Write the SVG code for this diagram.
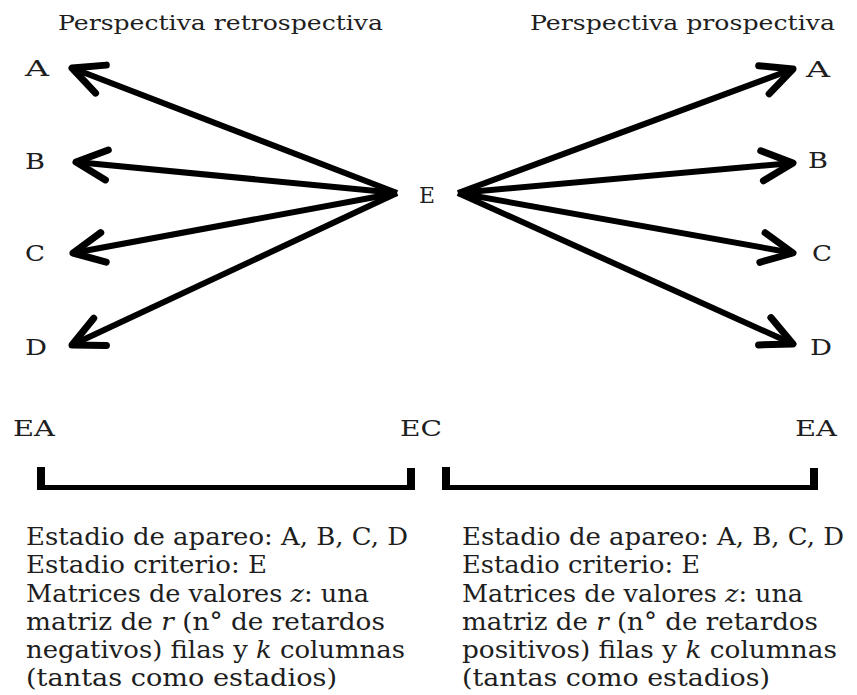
<svg xmlns="http://www.w3.org/2000/svg" width="857" height="695" viewBox="0 0 857 695">
<defs>
<style>
text{font-family:"DejaVu Serif","Liberation Serif",serif;fill:#1e1e1e}
.t{font-size:21px}
.l{font-size:22px}
.b{font-size:23.5px}
.arr{fill:none;stroke:#000;stroke-width:6;marker-end:url(#ah)}
.brk{stroke:#000;fill:none}
</style>
<marker id="ah" markerUnits="userSpaceOnUse" viewBox="-40 -22 48 44" markerWidth="48" markerHeight="44" refX="0" refY="0" orient="auto">
<path d="M-31,-15 L0,0 L-31,15" fill="none" stroke="#000" stroke-width="7" stroke-linecap="round" stroke-linejoin="round"/>
</marker>
</defs>
<rect width="857" height="695" fill="#fff"/>

<g id="title-retro"><text class="t" x="58" y="30" textLength="325" lengthAdjust="spacingAndGlyphs">Perspectiva retrospectiva</text></g>
<g id="title-pro"><text class="t" x="530" y="30" textLength="305" lengthAdjust="spacingAndGlyphs">Perspectiva prospectiva</text></g>

<g id="node-E"><text class="l" x="419" y="203" textLength="16" lengthAdjust="spacingAndGlyphs">E</text></g>
<g id="node-A-left"><text class="l" x="25" y="76" textLength="24" lengthAdjust="spacingAndGlyphs">A</text></g>
<g id="node-B-left"><text class="l" x="25" y="169" textLength="20" lengthAdjust="spacingAndGlyphs">B</text></g>
<g id="node-C-left"><text class="l" x="25" y="261" textLength="20" lengthAdjust="spacingAndGlyphs">C</text></g>
<g id="node-D-left"><text class="l" x="25" y="355" textLength="22" lengthAdjust="spacingAndGlyphs">D</text></g>
<g id="node-A-right"><text class="l" x="806" y="77" textLength="24" lengthAdjust="spacingAndGlyphs">A</text></g>
<g id="node-B-right"><text class="l" x="808" y="168" textLength="20" lengthAdjust="spacingAndGlyphs">B</text></g>
<g id="node-C-right"><text class="l" x="812" y="261" textLength="20" lengthAdjust="spacingAndGlyphs">C</text></g>
<g id="node-D-right"><text class="l" x="810" y="355" textLength="22" lengthAdjust="spacingAndGlyphs">D</text></g>

<g id="connectors">
<path class="arr" d="M397,193 L72,68"/>
<path class="arr" d="M397,193 L76,162"/>
<path class="arr" d="M397,193 L73,253"/>
<path class="arr" d="M397,193 L72,345"/>
<path class="arr" d="M458,193 L793,69"/>
<path class="arr" d="M458,193 L793,163"/>
<path class="arr" d="M458,193 L793,253"/>
<path class="arr" d="M458,193 L793,344"/>
</g>

<g id="label-EA-left"><text class="l" x="13" y="436" textLength="42" lengthAdjust="spacingAndGlyphs">EA</text></g>
<g id="label-EC"><text class="l" x="400" y="436" textLength="42" lengthAdjust="spacingAndGlyphs">EC</text></g>
<g id="label-EA-right"><text class="l" x="795" y="436" textLength="42" lengthAdjust="spacingAndGlyphs">EA</text></g>

<g id="bracket-left">
<path class="brk" stroke-width="8" d="M41,467 V490 M411,468 V490"/>
<path class="brk" stroke-width="5" d="M37,487.5 H415"/>
</g>
<g id="bracket-right">
<path class="brk" stroke-width="8" d="M446,467 V490 M814,468 V490"/>
<path class="brk" stroke-width="5" d="M442,487.5 H818"/>
</g>

<g id="desc-left">
<text class="b" x="26" y="545" textLength="382" lengthAdjust="spacingAndGlyphs">Estadio de apareo: A, B, C, D</text>
<text class="b" x="26" y="573" textLength="241" lengthAdjust="spacingAndGlyphs">Estadio criterio: E</text>
<text class="b" x="26" y="602" textLength="343" lengthAdjust="spacingAndGlyphs">Matrices de valores <tspan font-style="italic">z</tspan>: una</text>
<text class="b" x="26" y="630" textLength="359" lengthAdjust="spacingAndGlyphs">matriz de <tspan font-style="italic">r</tspan> (n° de retardos</text>
<text class="b" x="26" y="658" textLength="379" lengthAdjust="spacingAndGlyphs">negativos) filas y <tspan font-style="italic">k</tspan> columnas</text>
<text class="b" x="26" y="686" textLength="311" lengthAdjust="spacingAndGlyphs">(tantas como estadios)</text>
</g>
<g id="desc-right">
<text class="b" x="462" y="545" textLength="382" lengthAdjust="spacingAndGlyphs">Estadio de apareo: A, B, C, D</text>
<text class="b" x="462" y="573" textLength="238" lengthAdjust="spacingAndGlyphs">Estadio criterio: E</text>
<text class="b" x="462" y="602" textLength="341" lengthAdjust="spacingAndGlyphs">Matrices de valores <tspan font-style="italic">z</tspan>: una</text>
<text class="b" x="462" y="630" textLength="356" lengthAdjust="spacingAndGlyphs">matriz de <tspan font-style="italic">r</tspan> (n° de retardos</text>
<text class="b" x="462" y="658" textLength="375" lengthAdjust="spacingAndGlyphs">positivos) filas y <tspan font-style="italic">k</tspan> columnas</text>
<text class="b" x="462" y="686" textLength="308" lengthAdjust="spacingAndGlyphs">(tantas como estadios)</text>
</g>
</svg>
